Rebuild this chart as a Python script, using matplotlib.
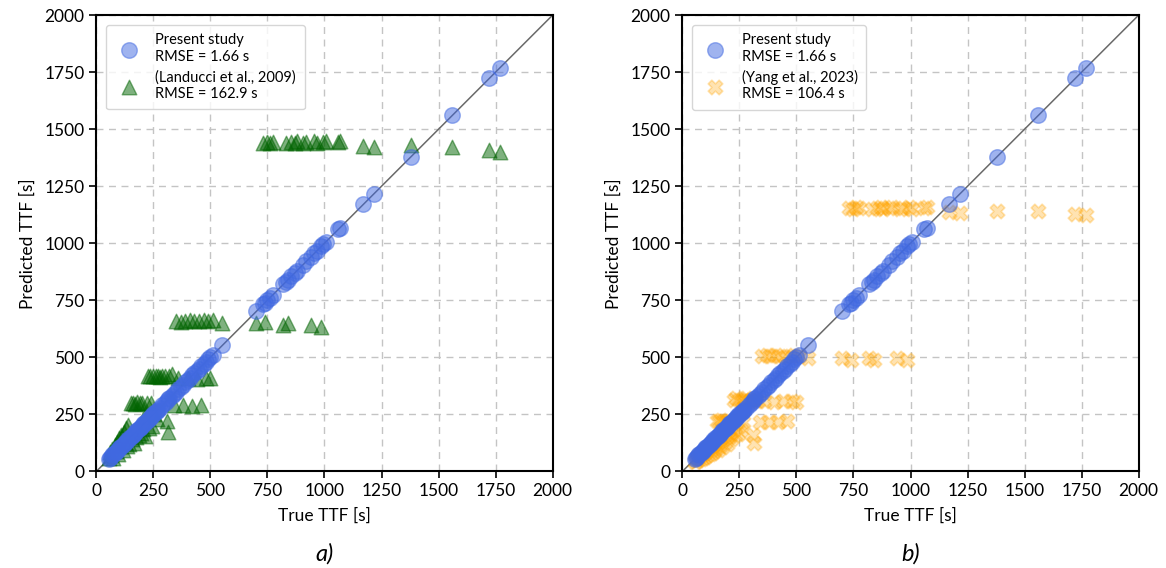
import matplotlib
matplotlib.use('Agg')
import matplotlib.pyplot as plt
import numpy as np

# true time-to-failure of the test cases [s]
true_ttf = [55, 60, 65, 70, 75, 80, 85, 90, 95, 100,
            105, 110, 115, 120, 125, 130, 135, 140, 145, 150,
            155, 160, 165, 170, 175, 180, 185, 190, 195, 200,
            205, 210, 215, 220, 225, 230, 235, 240, 245, 250,
            255, 260, 265, 270, 280, 290, 300, 310, 315, 320,
            330, 340, 350, 360, 370, 380, 390, 400, 410, 420,
            430, 440, 450, 460, 470, 480, 490, 500, 510, 550,
            700, 730, 740, 750, 760, 775, 820, 830, 840, 855,
            870, 880, 905, 920, 940, 955, 965, 985, 995, 1005,
            1060, 1070, 1170, 1215, 1380, 1560, 1720, 1770]

pred_present = [56, 61, 64, 71, 76, 79, 86, 91, 94, 101,
                106, 109, 116, 121, 124, 131, 136, 139, 146, 151,
                154, 161, 166, 169, 176, 181, 184, 191, 196, 199,
                206, 211, 214, 221, 226, 229, 236, 241, 244, 251,
                256, 259, 266, 271, 279, 291, 301, 309, 316, 321,
                329, 341, 349, 361, 371, 379, 391, 401, 409, 421,
                431, 439, 451, 461, 469, 481, 491, 501, 509, 552,
                701, 732, 739, 752, 759, 774, 822, 829, 841, 856,
                871, 879, 906, 921, 939, 956, 964, 986, 996, 1004,
                1061, 1069, 1172, 1217, 1378, 1562, 1722, 1768]

pred_landucci = [60, 85, 70, 100, 60, 115, 90, 130, 75, 145,
                 110, 160, 95, 175, 130, 190, 110, 205, 120, 300,
                 140, 300, 125, 295, 150, 305, 160, 300, 170, 300,
                 185, 240, 155, 300, 420, 190, 420, 300, 200, 420,
                 250, 420, 230, 420, 415, 420, 420, 220, 175, 420,
                 425, 290, 660, 410, 655, 290, 660, 410, 665, 285,
                 660, 405, 660, 290, 665, 410, 660, 410, 665, 650,
                 650, 1440, 655, 1445, 1440, 1445, 640, 1440, 650, 1445,
                 1440, 1450, 1440, 1445, 640, 1450, 1440, 635, 1445, 1450,
                 1445, 1450, 1425, 1420, 1430, 1420, 1410, 1400]

pred_yang = [40, 45, 60, 50, 70, 55, 80, 60, 90, 65,
             100, 70, 110, 75, 120, 80, 130, 90, 100, 220,
             95, 220, 110, 225, 105, 220, 130, 215, 120, 220,
             150, 175, 140, 220, 315, 160, 320, 215, 165, 315,
             180, 310, 215, 315, 320, 310, 315, 160, 125, 315,
             310, 215, 505, 310, 510, 215, 505, 305, 510, 215,
             505, 310, 500, 220, 505, 310, 510, 305, 505, 497,
             495, 1155, 490, 1150, 1160, 1155, 495, 1150, 490, 1155,
             1160, 1150, 1155, 1160, 495, 1150, 1155, 490, 1160, 1150,
             1155, 1160, 1135, 1132, 1140, 1140, 1128, 1122]

ticks = list(range(0, 2001, 250))

plt.rcParams.update({'font.size': 12, 'font.family': ['Lato', 'DejaVu Sans']})

fig = plt.figure(figsize=(11.66, 5.68), dpi=100)
ax_a = fig.add_axes([0.0826, 0.170, 0.3914, 0.8035])
ax_b = fig.add_axes([0.5852, 0.170, 0.3914, 0.8035])


def draw_panel(ax, other, other_kw, other_label, letter):
    ax.plot([0, 2000], [0, 2000], color='dimgray', lw=1.1, zorder=1)
    h_other = ax.scatter(true_ttf, other, s=110, zorder=2, label=other_label, **other_kw)
    h_present = ax.scatter(true_ttf, pred_present, s=125, marker='o', color='royalblue',
                           alpha=0.5, edgecolors='royalblue', linewidths=1, zorder=3,
                           label='Present study\nRMSE = 1.66 s')
    ax.set_xlim(0, 2000)
    ax.set_ylim(0, 2000)
    ax.set_xticks(ticks)
    ax.set_yticks(ticks)
    ax.grid(True, linestyle=(0, (5, 4)), color='#c4c4c4', lw=1)
    ax.set_axisbelow(True)
    for sp in ax.spines.values():
        sp.set_linewidth(1.5)
    ax.tick_params(direction='out', length=5, width=1.2, labelsize=12.5)
    ax.set_xlabel('True TTF [s]', fontsize=12.5, labelpad=6)
    ax.set_ylabel('Predicted TTF [s]', fontsize=12.5, labelpad=6)
    leg = ax.legend(handles=[h_present, h_other], loc='upper left', fontsize=10.5,
                    frameon=True, fancybox=True, edgecolor='#cccccc',
                    borderpad=0.6, labelspacing=0.45, handletextpad=0.8,
                    bbox_to_anchor=(0.005, 0.995))
    leg.get_frame().set_linewidth(1)
    ax.text(0.5, -0.18, letter, transform=ax.transAxes, ha='center', va='center',
            fontsize=17, style='italic')


draw_panel(ax_a, pred_landucci,
           dict(marker='^', color='darkgreen', alpha=0.5, edgecolors='darkgreen', linewidths=1),
           '(Landucci et al., 2009)\nRMSE = 162.9 s', 'a)')
draw_panel(ax_b, pred_yang,
           dict(marker='X', color='orange', alpha=0.3, edgecolors='orange', linewidths=1.2),
           '(Yang et al., 2023)\nRMSE = 106.4 s', 'b)')

fig.savefig('out.png', dpi=100)
